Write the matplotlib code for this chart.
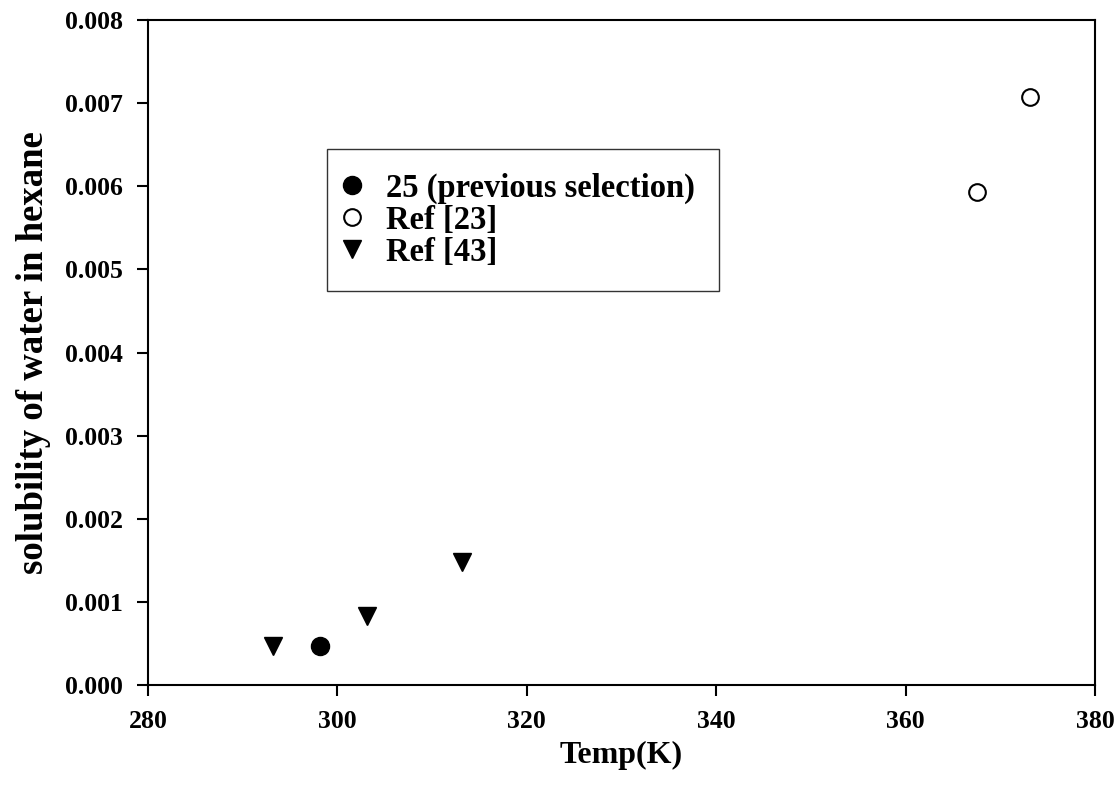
import matplotlib
matplotlib.use("Agg")
import matplotlib.pyplot as plt

plt.rcParams['font.family'] = ['Liberation Serif', 'DejaVu Serif']
plt.rcParams['font.weight'] = 'bold'

# Data
t_prev = [298.15]
s_prev = [0.00047]
t_ref23 = [367.5, 373.15]
s_ref23 = [0.00593, 0.00707]
t_ref43 = [293.15, 303.15, 313.15]
s_ref43 = [0.00047, 0.00083, 0.00148]

xticks = [280, 300, 320, 340, 360, 380]
yticks = [0.000, 0.001, 0.002, 0.003, 0.004, 0.005, 0.006, 0.007, 0.008]

fig = plt.figure(figsize=(11.2, 7.98), dpi=100)
ax = fig.add_axes([148/1120, 1-685/798, (1095-148)/1120, (685-20)/798])

ax.plot(t_prev, s_prev, 'o', color='black', markersize=13, linestyle='none',
        label='25 (previous selection)')
ax.plot(t_ref23, s_ref23, 'o', markerfacecolor='white', markeredgecolor='black',
        markeredgewidth=1.5, markersize=12, linestyle='none', label='Ref [23]')
ax.plot(t_ref43, s_ref43, 'v', color='black', markersize=13, linestyle='none',
        label='Ref [43]')

ax.set_xlim(280, 380)
ax.set_ylim(0, 0.008)
ax.set_xticks(xticks)
ax.set_yticks(yticks)
ax.set_xticklabels([str(v) for v in xticks])
ax.set_yticklabels([f"{v:.3f}" for v in yticks])
ax.tick_params(direction='out', length=8, width=1.5, labelsize=18.5, pad=10,
               top=False, right=False)
for sp in ax.spines.values():
    sp.set_linewidth(1.5)

ax.set_xlabel('Temp(K)', fontsize=23, fontweight='bold', labelpad=6)
ax.set_ylabel('solubility of water in hexane', fontsize=26.5, fontweight='bold', labelpad=10)

leg = ax.legend(loc='upper left', bbox_to_anchor=(0.189, 0.806), borderaxespad=0,
                fontsize=23.5, frameon=True, fancybox=False, edgecolor='black',
                handletextpad=1.0, borderpad=0.72, labelspacing=0.03, handlelength=0.1)
leg.get_frame().set_linewidth(1.0)

fig.savefig('out.png', dpi=100)
